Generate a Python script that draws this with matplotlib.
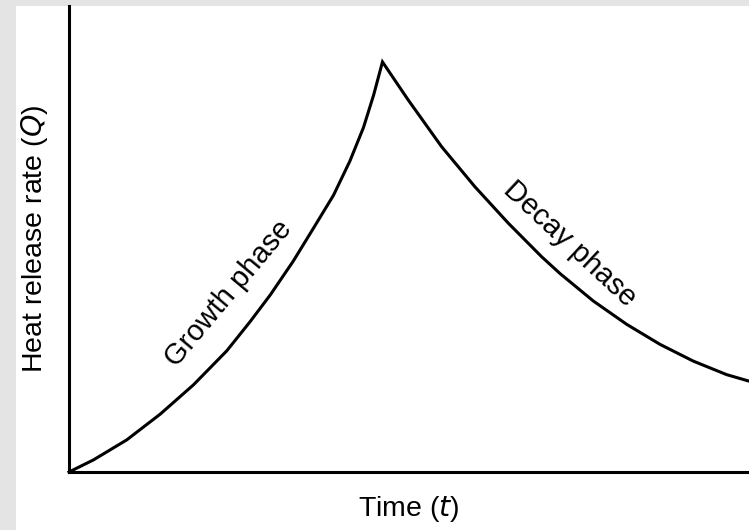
import matplotlib.pyplot as plt
from matplotlib.patches import Rectangle

plt.rcParams['font.family'] = ['Liberation Sans', 'DejaVu Sans']

# Curve (arbitrary units: time 0-10, heat release 0-100)
growth_t = [0.0, 0.36, 0.85, 1.34, 1.83, 2.32, 2.66, 2.96, 3.30, 3.59, 3.89, 4.13, 4.33, 4.48, 4.61]
growth_q = [0.0, 2.6, 6.9, 12.4, 18.7, 26.0, 32.2, 38.0, 45.3, 52.2, 59.4, 66.7, 73.9, 80.9, 88.0]
decay_t = [4.61, 4.99, 5.48, 5.97, 6.46, 6.95, 7.22, 7.71, 8.20, 8.69, 9.18, 9.67, 10.0]
decay_q = [88.0, 79.8, 69.8, 61.2, 53.4, 46.2, 42.6, 36.7, 31.7, 27.4, 23.8, 20.9, 19.5]

fig = plt.figure(figsize=(7.49, 5.30), dpi=100)
fig.patch.set_facecolor('#e4e4e4')
# white sheet with grey strip at left and top
fig.patches.append(Rectangle((16 / 749, 0), 1, 1 - 6 / 530, transform=fig.transFigure,
                             facecolor='white', edgecolor='none', zorder=-10))

ax = fig.add_axes([69 / 749, 58 / 530, 680 / 749, 466 / 530])
ax.set_facecolor('none')
ax.plot(growth_t + decay_t[1:], growth_q + decay_q[1:], color='black', lw=2.2,
        solid_joinstyle='miter', clip_on=False)
ax.set_xlim(0, 10)
ax.set_ylim(0, 100)
for side in ('top', 'right'):
    ax.spines[side].set_visible(False)
for side in ('left', 'bottom'):
    ax.spines[side].set_linewidth(2.2)
ax.set_xticks([])
ax.set_yticks([])

ax.set_xlabel('Time ($\\it{t}$)', fontsize=20.5, labelpad=16)
ax.set_ylabel('Heat release rate ($\\it{Q}$)', fontsize=20.5, labelpad=14)

ax.text(2.34, 38.4, 'Growth phase', fontsize=21, rotation=50, ha='center', va='center')
ax.text(7.36, 48.9, 'Decay phase', fontsize=21, rotation=-43, ha='center', va='center')

fig.savefig('out.png', dpi=100, facecolor=fig.get_facecolor())
